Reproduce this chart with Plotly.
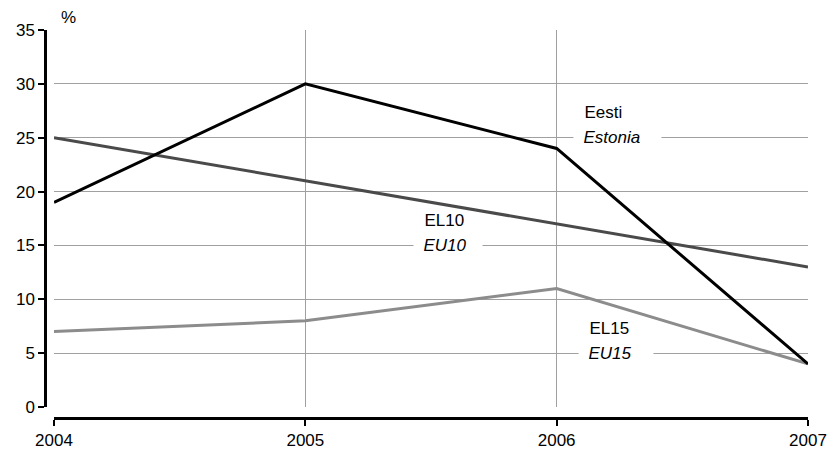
import plotly.graph_objects as go

years = [2004, 2005, 2006, 2007]
eesti = [19, 30, 24, 4]
el10 = [25, 21, 17, 13]
el15 = [7, 8, 11, 4]
y_ticks = [0, 5, 10, 15, 20, 25, 30, 35]

W, H = 832, 450
fig = go.Figure()
fig.add_trace(go.Scatter(x=years, y=el15, mode="lines", line=dict(color="#8c8c8c", width=3), name="EL15"))
fig.add_trace(go.Scatter(x=years, y=el10, mode="lines", line=dict(color="#4a4a4a", width=3), name="EL10"))
fig.add_trace(go.Scatter(x=years, y=eesti, mode="lines", line=dict(color="#000000", width=3), name="Eesti"))

font = dict(family="Liberation Sans, Arial, sans-serif", size=17, color="#000")

# label helper: gap in gridline (left edge x, width px), plain text above, italic text on gridline
def label(x_left, y_grid, top, bottom, gap_w):
    fig.add_annotation(x=x_left, y=y_grid, xref="x", yref="y", xanchor="left", yanchor="middle",
                       text="&nbsp;&nbsp;<i>" + bottom + "</i>", showarrow=False, align="left",
                       width=gap_w, bgcolor="white", borderpad=0, font=font)
    fig.add_annotation(x=x_left, y=y_grid, xref="x", yref="y", xanchor="left", yanchor="middle",
                       text="&nbsp;&nbsp;" + top, showarrow=False, align="left",
                       width=gap_w, yshift=25, font=font)

label(2006.065, 25, "Eesti", "Estonia", 87)
label(2005.43, 15, "EL10", "EU10", 68)
label(2006.085, 5, "EL15", "EU15", 74)

fig.add_annotation(x=0, y=1, xref="paper", yref="paper", xanchor="left", yanchor="bottom",
                   text="%", showarrow=False, font=font, yshift=1, xshift=14)

fig.update_layout(
    width=W, height=H,
    margin=dict(l=45, r=24, t=30, b=32, autoexpand=False),
    paper_bgcolor="white", plot_bgcolor="white",
    showlegend=False,
    font=font,
    xaxis=dict(domain=[0.0118, 1], range=[2004, 2007], tickvals=years, ticktext=[str(y) for y in years],
               showgrid=True, gridcolor="#a0a0a0", gridwidth=1, zeroline=False, automargin=False,
               showline=True, linecolor="black", linewidth=2.5, anchor="free", position=0,
               ticks="outside", ticklen=6, tickwidth=2, tickcolor="black", tickfont=font),
    yaxis=dict(domain=[0.0284, 1], range=[0, 35], tickvals=y_ticks,
               showgrid=True, gridcolor="#a0a0a0", gridwidth=1, zeroline=False, automargin=False,
               showline=True, linecolor="black", linewidth=2.5, anchor="free", position=0,
               ticks="outside", ticklen=6, tickwidth=2, tickcolor="black", tickfont=font),
)

fig.write_html("out.html", config={"displayModeBar": False},
               post_script="document.body.style.margin='0';document.body.style.overflow='hidden';")
